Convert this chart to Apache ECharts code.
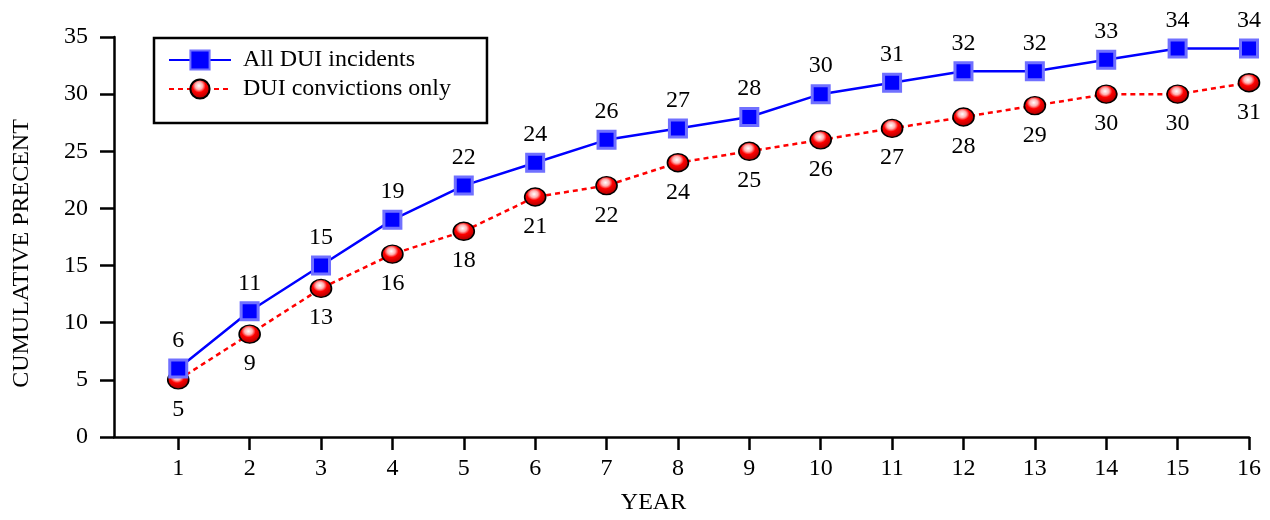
<!DOCTYPE html>
<html>
<head>
<meta charset="utf-8">
<script src="https://cdn.jsdelivr.net/npm/echarts@6/dist/echarts.min.js"></script>
<style>
html,body{margin:0;padding:0;background:#fff;}
#chart{width:1270px;height:520px;}
</style>
</head>
<body>
<div id="chart"></div>
<script>
const years = [1,2,3,4,5,6,7,8,9,10,11,12,13,14,15,16];
const allIncidents = [6,11,15,19,22,24,26,27,28,30,31,32,32,33,34,34];
const convictionsOnly = [5,9,13,16,18,21,22,24,25,26,27,28,29,30,30,31];
const yTicks = [0,5,10,15,20,25,30,35];
const seriesNames = ['All DUI incidents','DUI convictions only'];

const font = '"Liberation Serif", "Times New Roman", serif';
const fs = 24;
const chart = echarts.init(document.getElementById('chart'));

const pair = (xs, ys) => xs.map((x, i) => [x, ys[i]]);

chart.setOption({
  animation: false,
  backgroundColor: '#fff',
  textStyle: {fontFamily: font, color: '#000'},
  grid: {left: 114, top: 37, right: 21, bottom: 78, containLabel: false},
  legend: {
    left: 154, top: 38,
    orient: 'vertical',
    borderColor: '#000', borderWidth: 2.5,
    padding: [10, 36, 22, 14],
    itemWidth: 62, itemHeight: 24, itemGap: 5,
    textStyle: {fontFamily: font, fontSize: fs, color: '#000', padding: [0, 0, 0, 7]},
    data: seriesNames
  },
  xAxis: {
    type: 'value', min: 0.1, max: 16,
    name: 'YEAR', nameLocation: 'middle', nameGap: 54,
    nameTextStyle: {fontFamily: font, fontSize: fs, color: '#000', padding: [0, 56, 0, 0]},
    axisLine: {show: true, onZero: false, lineStyle: {color: '#000', width: 2.5}},
    axisTick: {show: true, inside: false, length: 13, lineStyle: {color: '#000', width: 2.5}, customValues: years},
    axisLabel: {fontFamily: font, fontSize: fs, color: '#000', margin: 20, customValues: years},
    splitLine: {show: false}
  },
  yAxis: {
    type: 'value', min: 0, max: 35, interval: 5,
    name: 'CUMULATIVE PRECENT', nameLocation: 'middle', nameGap: 80,
    nameTextStyle: {fontFamily: font, fontSize: fs, color: '#000', padding: [0, 33, 0, 0]},
    axisLine: {show: true, lineStyle: {color: '#000', width: 2.5}},
    axisTick: {show: true, inside: false, length: 14, lineStyle: {color: '#000', width: 2.5}},
    axisLabel: {fontFamily: font, fontSize: fs, color: '#000', margin: 26,
      formatter: v => yTicks.includes(v) ? String(v) : ''},
    splitLine: {show: false}
  },
  series: [
    {
      name: seriesNames[0], type: 'line',
      data: pair(years, allIncidents),
      symbol: 'rect', symbolSize: 17,
      lineStyle: {color: '#0000ff', width: 2.5},
      itemStyle: {color: '#0000ff', borderColor: '#7070ff', borderWidth: 3},
      label: {show: true, position: 'top', distance: 6, fontFamily: font, fontSize: fs, color: '#000'},
      z: 3
    },
    {
      name: seriesNames[1], type: 'line',
      data: pair(years, convictionsOnly),
      symbol: 'circle', symbolSize: [21, 18],
      lineStyle: {color: '#ff0000', width: 2.5, type: [5, 4]},
      itemStyle: {
        color: {type: 'radial', x: 0.45, y: 0.35, r: 0.7, colorStops: [
          {offset: 0, color: '#ffffff'},
          {offset: 0.25, color: '#ffb0b0'},
          {offset: 0.45, color: '#ff0000'},
          {offset: 1, color: '#900000'}
        ]},
        borderColor: '#000', borderWidth: 1.5
      },
      label: {show: true, position: 'bottom', distance: 8, fontFamily: font, fontSize: fs, color: '#000'},
      z: 2
    }
  ]
});
</script>
</body>
</html>
